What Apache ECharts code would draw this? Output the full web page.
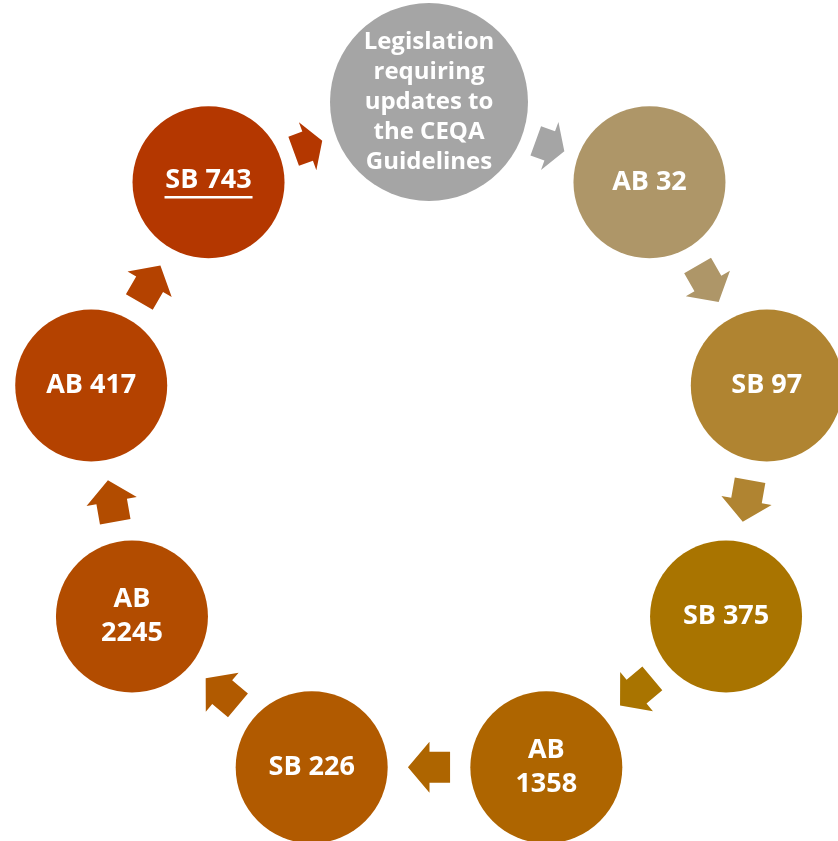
<!DOCTYPE html>
<html>
<head>
<meta charset="utf-8">
<script src="https://cdn.jsdelivr.net/npm/echarts@6/dist/echarts.min.js"></script>
<style>html,body{margin:0;padding:0;background:#fff}#c{width:838px;height:841px}</style>
</head>
<body>
<div id="c"></div>
<script>
const nodeLabels = ['Legislation\nrequiring\nupdates to\nthe CEQA\nGuidelines', 'AB 32', 'SB 97', 'SB 375', 'AB\n1358', 'SB 226', 'AB\n2245', 'AB 417', 'SB 743'];
const nodeColors = ['#A5A5A5', '#AE9668', '#B08431', '#A97400', '#AE6500', '#B15A00', '#B24C00', '#B44200', '#B43700'];
const underlined = [false, false, false, false, false, false, false, false, true];

// layout constants (styles, not data)
const RING = 343;            // ring radius in px
const HUB_SIZE = 198;        // diameter of first (hub) node
const NODE_SIZE = 152;       // diameter of other nodes
const ARROW_WIDTH = 51;
const ARROW_FILL = 0.51;     // arrow length as share of the gap between circles

const chart = echarts.init(document.getElementById('c'));
const n = nodeLabels.length;
const step = 360 / n;
const sizeOf = i => (i === 0 ? HUB_SIZE : NODE_SIZE);
const rad = d => d * Math.PI / 180;

const nodeData = nodeLabels.map((name, i) => ({
  name: name,
  value: [1, i * step],
  symbolSize: sizeOf(i),
  itemStyle: { color: nodeColors[i], opacity: 1 },
  label: {
    formatter: underlined[i] ? '{u|' + name + '}\n{ul|}' : name,
    fontSize: i === 0 ? 24 : 27,
    lineHeight: i === 0 ? 30 : 34
  }
}));

// arrows sit midway in the gap between consecutive circles, along the chord
const arrowData = nodeLabels.map((name, i) => {
  const j = (i + 1) % n;
  const a = rad(i * step), b = rad(j * step);
  const pi = [Math.sin(a) * RING, -Math.cos(a) * RING];
  const pj = [Math.sin(b) * RING, -Math.cos(b) * RING];
  const dx = pj[0] - pi[0], dy = pj[1] - pi[1];
  const d = Math.hypot(dx, dy);
  const ri = sizeOf(i) / 2, rj = sizeOf(j) / 2;
  const gap = d - ri - rj;
  const t = (ri + gap / 2) / d;
  const mx = pi[0] + t * dx, my = pi[1] + t * dy;
  const r = Math.hypot(mx, my) / RING;
  let ang = Math.atan2(mx, -my) * 180 / Math.PI;
  if (ang < 0) ang += 360;
  return {
    value: [r, ang],
    symbolSize: [gap * ARROW_FILL, ARROW_WIDTH],
    symbolRotate: Math.atan2(-dy, dx) * 180 / Math.PI,
    itemStyle: { color: nodeColors[i], opacity: 1 }
  };
});

chart.setOption({
  animation: false,
  polar: { center: [429, 445], radius: RING },
  radiusAxis: { min: 0, max: 1, show: false },
  angleAxis: { type: 'value', min: 0, max: 360, startAngle: 90, clockwise: true, show: false },
  series: [
    {
      type: 'scatter',
      coordinateSystem: 'polar',
      symbol: 'path://M0,10L21,10L21,0L43,25.5L21,51L21,41L0,41Z',
      itemStyle: { opacity: 1 },
      data: arrowData,
      z: 1,
      silent: true
    },
    {
      type: 'scatter',
      coordinateSystem: 'polar',
      symbol: 'circle',
      itemStyle: { opacity: 1 },
      data: nodeData,
      z: 2,
      silent: true,
      label: {
        show: true,
        position: 'inside',
        color: '#ffffff',
        opacity: 1,
        fontFamily: 'Open Sans',
        fontWeight: 'bold',
        fontSize: 27,
        align: 'center',
        rich: {
          u: { color: '#ffffff', fontFamily: 'Open Sans', fontWeight: 'bold', fontSize: 27, lineHeight: 30 },
          ul: { width: 88, height: 2.5, lineHeight: 3, backgroundColor: '#ffffff' }
        }
      }
    }
  ]
});
</script>
</body>
</html>
